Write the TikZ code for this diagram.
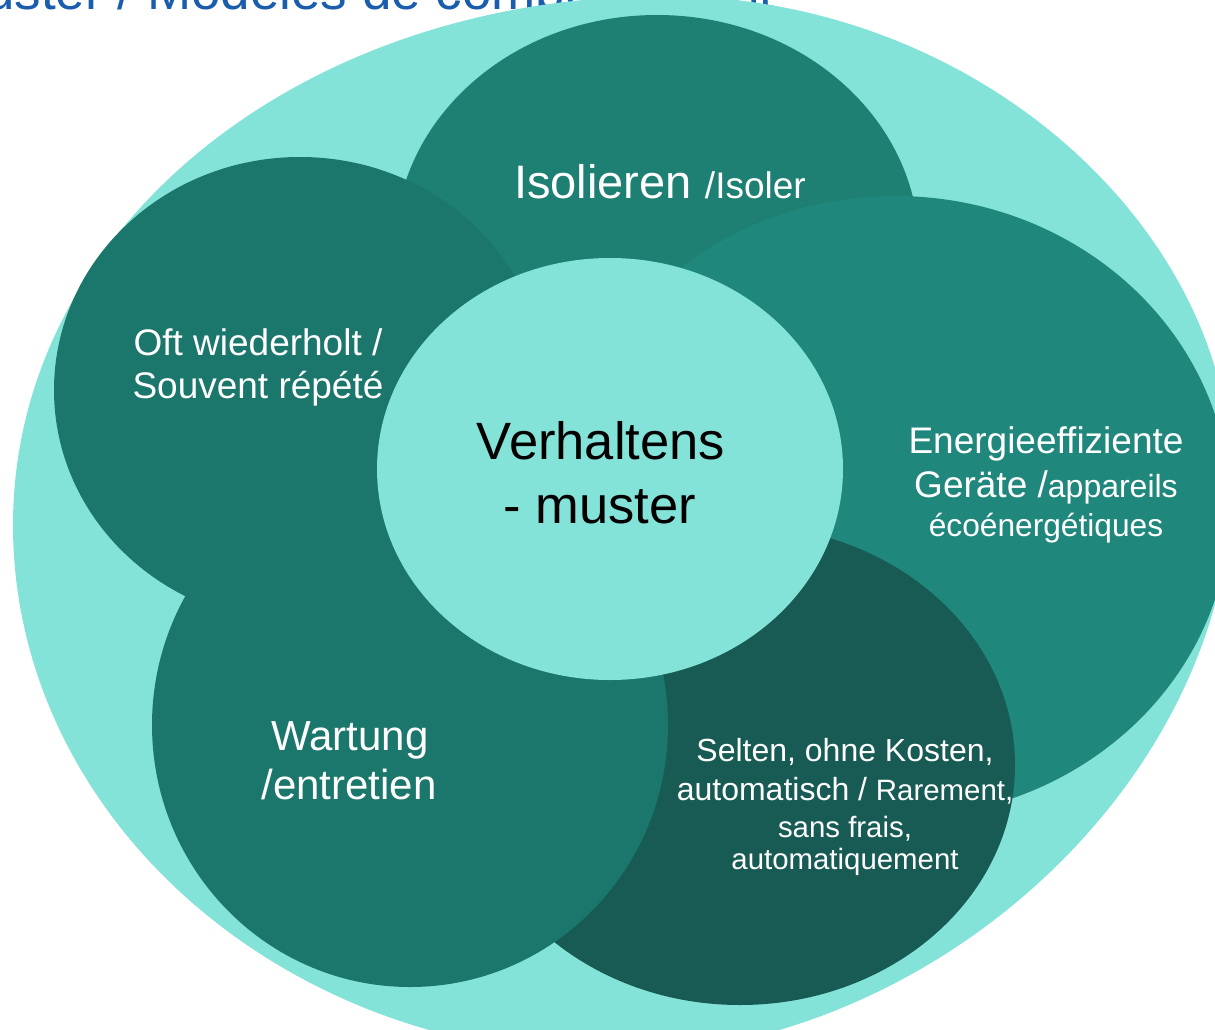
\documentclass[tikz,border=0pt]{standalone}
\usepackage{fontspec}
\setmainfont{Liberation Sans}
\definecolor{lt}{HTML}{84E3D8}
\definecolor{isol}{HTML}{1E7F73}
\definecolor{oft}{HTML}{1B766B}
\definecolor{ener}{HTML}{1F877C}
\definecolor{wart}{HTML}{1B776C}
\definecolor{selt}{HTML}{175B54}
\definecolor{ttl}{HTML}{1A5DAD}
\newcommand{\fs}[1]{\fontsize{#1}{#1}\selectfont}
\begin{document}
\begin{tikzpicture}[x=1pt,y=1pt,
  lbl/.style={text=white, inner sep=0pt, anchor=base}]
\path[use as bounding box, clip] (0,0) rectangle (1215,-1030);
% title, partly hidden
\node[anchor=base west, inner sep=0pt, text=ttl, font=\fs{53}] (title) at (-15,-10) {uster / Modèles de comportement};
% outer shape
\fill[lt] (13,-525) .. controls (13,-229) and (300,4) .. (665,4)
  .. controls (977,4) and (1232,-229) .. (1232,-480)
  .. controls (1232,-779) and (933,-1055) .. (610,-1055)
  .. controls (282,-1055) and (13,-817) .. (13,-525) -- cycle;
% petals
\fill[isol] (657,-247) ellipse [x radius=262pt, y radius=232pt];
\fill[ener] (895,-507) ellipse [x radius=335pt, y radius=311pt];
\fill[oft]  (300,-390) ellipse [x radius=246pt, y radius=233pt];
\fill[selt] (740,-765) ellipse [x radius=275pt, y radius=240pt];
\fill[wart] (410,-725) ellipse [x radius=258pt, y radius=262pt];
% centre
\fill[lt] (610,-469) ellipse [x radius=233pt, y radius=211pt];
% labels
\node[lbl, font=\fs{47}] (isoltxt) at (660,-198) {Isolieren {\fs{37}/Isoler}};
\node[lbl, font=\fs{37}] (oft1) at (258,-355) {Oft wiederholt /};
\node[lbl, font=\fs{37}] (oft2) at (258,-398) {Souvent répété};
\node[lbl, text=black, font=\fs{52.5}] (mid1) at (601,-459) {Verhaltens};
\node[lbl, text=black, font=\fs{52.5}] (mid2) at (600,-523) {- muster};
\node[lbl, font=\fs{37}] (en1) at (1046,-453) {Energieeffiziente};
\node[lbl, font=\fs{37}] (en2) at (1046,-497) {Geräte /{\fs{32}appareils}};
\node[lbl, font=\fs{31.7}] (en3) at (1046,-536) {écoénergétiques};
\node[lbl, font=\fs{42}] (wa1) at (350,-750) {Wartung};
\node[lbl, font=\fs{42}] (wa2) at (349,-799) {/entretien};
\node[lbl, font=\fs{32}] (se1) at (845,-761) {Selten, ohne Kosten,};
\node[lbl, font=\fs{32}] (se2) at (845,-800) {automatisch / {\fs{29.4}Rarement,}};
\node[lbl, font=\fs{29.4}] (se3) at (845,-837) {sans frais,};
\node[lbl, font=\fs{29.4}] (se4) at (845,-869) {automatiquement};
\end{tikzpicture}
\end{document}
